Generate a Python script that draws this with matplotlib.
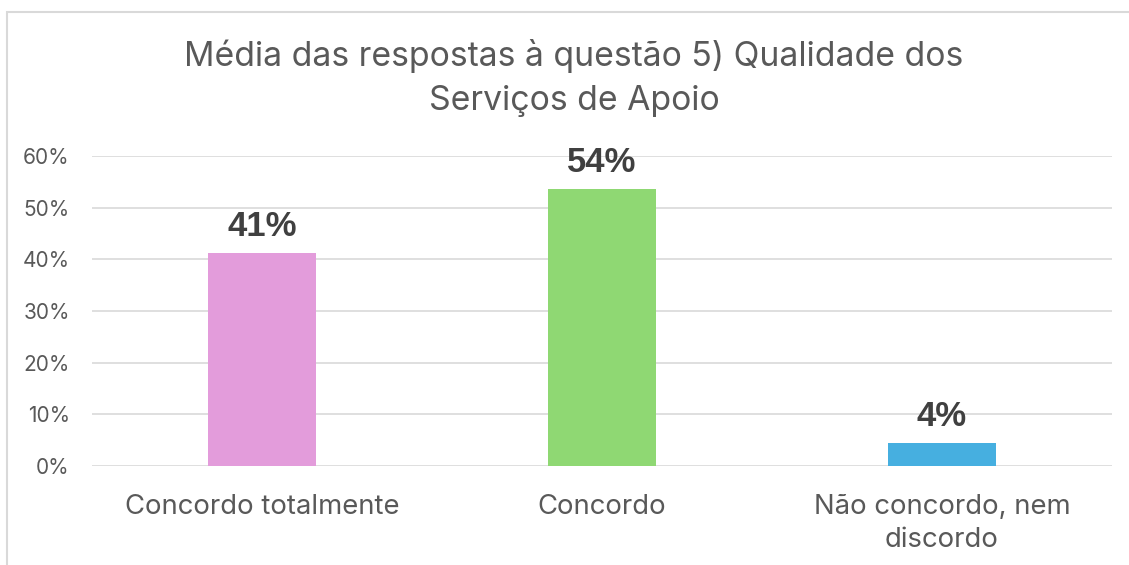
import matplotlib.pyplot as plt
from matplotlib.patches import Rectangle
from matplotlib.ticker import PercentFormatter

categorias = ['Concordo totalmente', 'Concordo', 'Não concordo, nem\ndiscordo']
valores = [41.2, 53.6, 4.4]
rotulos = ['41%', '54%', '4%']
cores = ['#E39CDB', '#8FD873', '#46AFE0']

plt.rcParams['font.family'] = ['Inter', 'DejaVu Sans']

fig = plt.figure(figsize=(11.29, 5.65), dpi=100)
fig.patches.append(Rectangle((7 / 1129, -0.1), 1.2, 1 - 12 / 565 + 0.1,
                             transform=fig.transFigure, fill=False,
                             edgecolor='#D9D9D9', linewidth=1.5))
ax = fig.add_axes([92 / 1129, 1 - 466 / 565, (1112 - 92) / 1129, (466 - 156) / 565])

x = range(len(categorias))
bars = ax.bar(x, valores, width=0.315, color=cores, zorder=3)
for b, r in zip(bars, rotulos):
    ax.text(b.get_x() + b.get_width() / 2, b.get_height() + 1.9, r,
            ha='center', va='bottom', fontsize=25, fontweight='bold', color='#404040',
            family=['Liberation Sans', 'DejaVu Sans'])

ax.set_xlim(-0.5, 2.5)
ax.set_ylim(0, 60)
ax.set_yticks(range(0, 61, 10))
ax.yaxis.set_major_formatter(PercentFormatter(decimals=0))
ax.grid(axis='y', color='#D9D9D9', linewidth=1.2, zorder=0)
for s in ax.spines.values():
    s.set_visible(False)
ax.tick_params(axis='both', length=0, colors='#595959')
ax.tick_params(axis='y', labelsize=15, pad=16)
ax.set_xticks(list(x))
ax.set_xticklabels(categorias, fontsize=19.8, color='#595959', linespacing=1.38)
ax.tick_params(axis='x', pad=20)

fig.text(574 / 1129, 1 - 78 / 565, 'Média das respostas à questão 5) Qualidade dos\nServiços de Apoio',
         ha='center', va='center', fontsize=24.3, color='#595959', linespacing=1.45)

fig.savefig('out.png', dpi=100)
